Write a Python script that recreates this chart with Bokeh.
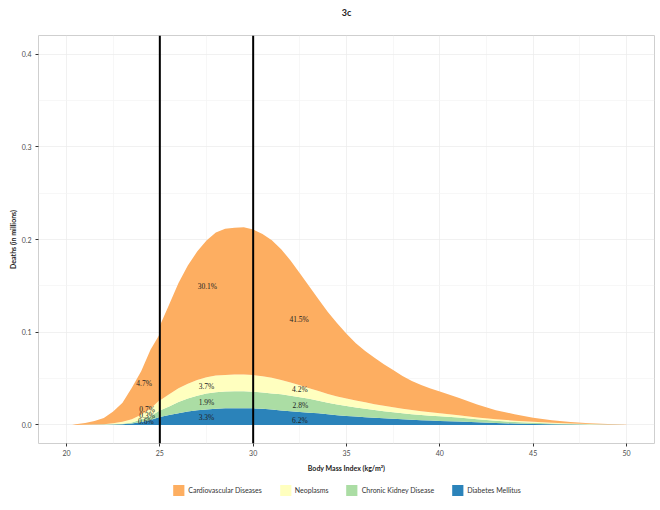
from bokeh.plotting import figure
from bokeh.layouts import column
from bokeh.models import (ColumnDataSource, Range1d, FixedTicker, PrintfTickFormatter,
                          Span, Legend, LegendItem, Label)
from bokeh.core.properties import value
from bokeh.embed import file_html
from bokeh.resources import INLINE

# ---------------- data ----------------
bmi = [20.3, 20.5, 21, 21.5, 22, 22.5, 23, 23.5, 24, 24.5, 24.95, 25, 25.5, 26, 26.5, 27,
       27.5, 28, 28.5, 29, 29.5, 30, 30.5, 31, 31.5, 32, 32.5, 33, 33.5, 34, 34.5, 35,
       35.5, 36, 36.5, 37, 37.5, 38, 38.5, 39, 39.5, 40, 41, 42, 43, 44, 45, 46, 47, 48,
       49, 50]

diabetes = [0, 0, 0, 0.0001, 0.0002, 0.0004, 0.0007, 0.0015, 0.0032, 0.0053, 0.0082, 0.0085,
            0.0107, 0.0127, 0.0145, 0.0159, 0.0168, 0.0175, 0.018, 0.0181, 0.0181, 0.0179,
            0.0174, 0.0166, 0.0157, 0.0148, 0.014, 0.0132, 0.0125, 0.0116, 0.0106, 0.0097,
            0.009, 0.0083, 0.0077, 0.0071, 0.0066, 0.0061, 0.0056, 0.0051, 0.0047, 0.0043,
            0.0036, 0.0028, 0.0021, 0.0015, 0.001, 0.0007, 0.0005, 0.0003, 0.0001, 0]

ckd = [0, 0, 0.0001, 0.0001, 0.0002, 0.0004, 0.0007, 0.0012, 0.0026, 0.0042, 0.0068, 0.007,
       0.0093, 0.0121, 0.014, 0.0157, 0.017, 0.0177, 0.018, 0.0182, 0.0182, 0.0179, 0.0176,
       0.0174, 0.0173, 0.0168, 0.016, 0.015, 0.0135, 0.0124, 0.0115, 0.0107, 0.0098, 0.0091,
       0.0083, 0.0076, 0.007, 0.0064, 0.0059, 0.0056, 0.0053, 0.0052, 0.0045, 0.0034, 0.0024,
       0.0018, 0.0014, 0.0009, 0.0004, 0.0002, 0.0001, 0]

neoplasms = [0, 0, 0.0001, 0.0002, 0.0004, 0.001, 0.0021, 0.0035, 0.0052, 0.008, 0.011, 0.011,
             0.013, 0.0147, 0.016, 0.0168, 0.0177, 0.018, 0.018, 0.0182, 0.0182, 0.018, 0.0175,
             0.0168, 0.0155, 0.0142, 0.0128, 0.0113, 0.0105, 0.0095, 0.0087, 0.0081, 0.0076,
             0.007, 0.0064, 0.0059, 0.0055, 0.0051, 0.0045, 0.004, 0.0036, 0.0032, 0.0025,
             0.0019, 0.0016, 0.0013, 0.001, 0.0008, 0.0006, 0.0004, 0.0002, 0]

cvd = [0, 0.0008, 0.002, 0.0038, 0.0067, 0.0127, 0.0205, 0.0338, 0.047, 0.0635, 0.0705, 0.0805,
       0.097, 0.1135, 0.1275, 0.1386, 0.1475, 0.1543, 0.1575, 0.1583, 0.1587, 0.157, 0.1535,
       0.1483, 0.1411, 0.1316, 0.1209, 0.11, 0.099, 0.0883, 0.0789, 0.0698, 0.0618, 0.0553,
       0.0502, 0.0449, 0.0401, 0.0352, 0.0315, 0.0284, 0.0258, 0.0235, 0.0188, 0.0139, 0.0098,
       0.0069, 0.0044, 0.0027, 0.0016, 0.001, 0.0005, 0.0003]

series_names = ["Diabetes Mellitus", "Chronic Kidney Disease", "Neoplasms", "Cardiovascular Diseases"]
series_colors = ["#2b83ba", "#abdda4", "#ffffbf", "#fdae61"]

pct_labels = ["30.1%", "41.5%", "4.7%", "3.7%", "4.2%", "0.7%", "1.9%", "2.8%",
              "0.3%", "3.3%", "6.2%", "0.6%"]
pct_x = [27.55, 32.46, 24.16, 27.5, 32.5, 24.32, 27.5, 32.53, 24.32, 27.5, 32.5, 24.25]
pct_y = [0.1494, 0.1132, 0.0442, 0.0416, 0.0377, 0.0168, 0.024, 0.0208, 0.0104, 0.0079,
         0.0046, 0.0036]

chart_title = "3c"
cutoffs = [25, 30]
x_ticks = [20, 25, 30, 35, 40, 45, 50]
x_minor = [22.5, 27.5, 32.5, 37.5, 42.5, 47.5]
y_ticks = [0.0, 0.1, 0.2, 0.3, 0.4]
y_minor = [0.05, 0.15, 0.25, 0.35]

SANS = "Lato"

# ---------------- title strip ----------------
head = figure(width=660, height=24, output_backend="svg", toolbar_location=None,
              x_range=Range1d(0, 1), y_range=Range1d(0, 1),
              x_axis_location=None, y_axis_location=None,
              min_border_left=38, min_border_right=6, min_border_top=0, min_border_bottom=0)
head.outline_line_color = None
head.xgrid.visible = False
head.ygrid.visible = False
head.add_layout(Label(x=0.5, y=0.5, text=chart_title, text_align="center",
                      text_baseline="middle", text_font=SANS, text_font_size="9px",
                      text_font_style="bold", text_color="#222222"))

# ---------------- main figure ----------------
p = figure(frame_width=616, frame_height=408,
           x_range=Range1d(18.5, 51.5), y_range=Range1d(-0.02, 0.42),
           output_backend="svg", toolbar_location=None,
           min_border_left=38, min_border_right=6, min_border_top=11, min_border_bottom=36)

p.outline_line_color = "#cfcfcf"
p.outline_line_width = 1
p.background_fill_color = "white"
p.border_fill_color = "white"

# grids
p.xgrid.ticker = FixedTicker(ticks=x_ticks, minor_ticks=x_minor)
p.ygrid.ticker = FixedTicker(ticks=y_ticks, minor_ticks=y_minor)
for g in (p.xgrid, p.ygrid):
    g.grid_line_color = "#ebebeb"
    g.grid_line_width = 0.7
    g.minor_grid_line_color = "#f4f4f4"
    g.minor_grid_line_width = 0.7

# axes
p.xaxis.ticker = FixedTicker(ticks=x_ticks)
p.yaxis.ticker = FixedTicker(ticks=y_ticks)
p.yaxis.formatter = PrintfTickFormatter(format="%.1f")
for ax in (p.xaxis[0], p.yaxis[0]):
    ax.axis_line_color = None
    ax.major_tick_in = 0
    ax.major_tick_out = 3
    ax.major_tick_line_color = "#333333"
    ax.minor_tick_in = 0
    ax.minor_tick_out = 0
    ax.major_label_text_font = SANS
    ax.major_label_text_font_size = "7px"
    ax.major_label_text_color = "#4d4d4d"
    ax.axis_label_text_font = SANS
    ax.axis_label_text_font_size = "7px"
    ax.axis_label_text_font_style = "bold"
    ax.axis_label_text_color = "#222222"

p.xaxis.axis_label = "Body Mass Index (kg/m\u00b2)"
p.xaxis.major_label_standoff = 3
p.xaxis.axis_label_standoff = 5
p.yaxis.axis_label = "Deaths (in millions)"
p.yaxis.major_label_standoff = 4
p.yaxis.axis_label_standoff = 2

# stacked areas
src = ColumnDataSource(dict(bmi=bmi, diabetes=diabetes, ckd=ckd, neoplasms=neoplasms, cvd=cvd))
stackers = ["diabetes", "ckd", "neoplasms", "cvd"]
rends = p.varea_stack(stackers=stackers, x="bmi", color=series_colors, source=src)

# cutoff lines
for c in cutoffs:
    p.add_layout(Span(location=c, dimension="height", line_color="black", line_width=2))

# percentage labels
lab_src = ColumnDataSource(dict(x=pct_x, y=pct_y, t=pct_labels))
tr = p.text(x="x", y="y", text="t", source=lab_src, text_font=value("Liberation Serif"),
            text_font_size="7.5px", text_align="center", text_baseline="middle",
            text_color="#222222")
tr.level = "overlay"

# ---------------- legend strip under the chart ----------------
# same stacked series, viewed through a range where no area is visible: only the legend shows
leg = figure(width=660, height=22, output_backend="svg", toolbar_location=None,
             x_range=Range1d(100, 101), y_range=Range1d(5, 6),
             x_axis_location=None, y_axis_location=None,
             min_border_left=26, min_border_right=0, min_border_top=0, min_border_bottom=0)
leg.outline_line_color = None
leg.xgrid.visible = False
leg.ygrid.visible = False
swatches = leg.varea_stack(stackers=stackers, x="bmi", color=series_colors, source=src)
order = [3, 2, 1, 0]
legend = Legend(items=[LegendItem(label=series_names[i], renderers=[swatches[i]]) for i in order],
                orientation="horizontal", location="center",
                label_text_font=SANS, label_text_font_size="7px", label_text_color="#333333",
                glyph_width=14, glyph_height=14, label_standoff=3, spacing=16,
                padding=3, margin=0, border_line_color=None, background_fill_alpha=0)
leg.add_layout(legend, "center")

layout = column(head, p, leg, spacing=0)
open("out.html", "w").write(file_html(layout, INLINE))
